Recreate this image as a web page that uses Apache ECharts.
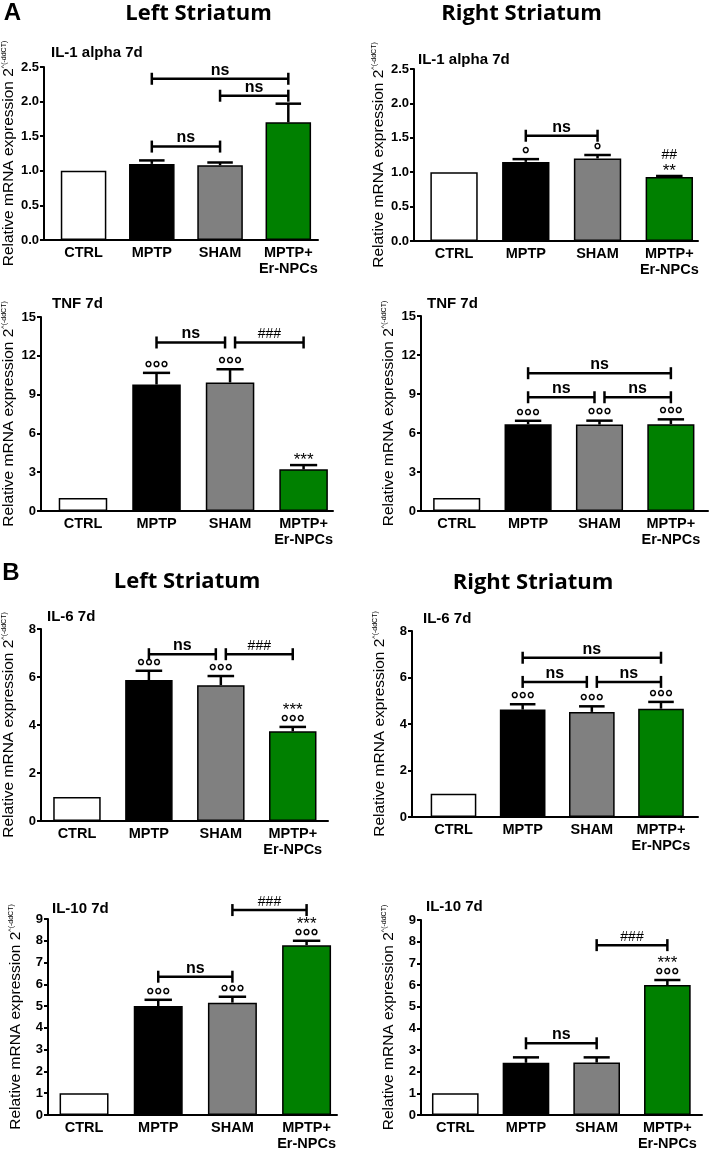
<!DOCTYPE html>
<html><head><meta charset="utf-8">
<script src="https://cdn.jsdelivr.net/npm/echarts@6/dist/echarts.min.js"></script>
<style>html,body{margin:0;padding:0;background:#fff}#c{width:709px;height:1155px}</style>
</head><body><div id="c"></div>
<script>
// ---------- DATA ----------
const categories = ['CTRL', 'MPTP', 'SHAM', 'MPTP+\nEr-NPCs'];
const panelTitles = ['IL-1 alpha 7d', 'IL-1 alpha 7d', 'TNF 7d', 'TNF 7d', 'IL-6 7d', 'IL-6 7d', 'IL-10 7d', 'IL-10 7d'];
const sectionLabels = ['A', 'B'];
const regionTitles = ['Left Striatum', 'Right Striatum'];
const yAxisName = 'Relative mRNA expression 2';
const yAxisSup = '^(-ddCT)';

const il1Ticks = [0, 0.5, 1.0, 1.5, 2.0, 2.5];
const tnfTicks = [0, 3, 6, 9, 12, 15];
const il6Ticks = [0, 2, 4, 6, 8];
const il10Ticks = [0, 1, 2, 3, 4, 5, 6, 7, 8, 9];

const il1LeftMean = [1.0, 1.10, 1.08, 1.70];
const il1LeftSem = [0, 0.05, 0.04, 0.27];
const il1RightMean = [1.0, 1.15, 1.20, 0.93];
const il1RightSem = [0, 0.04, 0.05, 0.015];
const tnfLeftMean = [1.0, 9.78, 9.94, 3.22];
const tnfLeftSem = [0, 0.90, 1.02, 0.33];
const tnfRightMean = [1.0, 6.67, 6.65, 6.68];
const tnfRightSem = [0, 0.27, 0.30, 0.37];
const il6LeftMean = [1.0, 5.87, 5.66, 3.74];
const il6LeftSem = [0, 0.39, 0.38, 0.18];
const il6RightMean = [1.0, 4.62, 4.52, 4.66];
const il6RightSem = [0, 0.23, 0.24, 0.29];
const il10LeftMean = [1.0, 5.00, 5.16, 7.80];
const il10LeftSem = [0, 0.29, 0.27, 0.20];
const il10RightMean = [1.0, 2.41, 2.42, 6.00];
const il10RightSem = [0, 0.25, 0.24, 0.23];

// brackets: [fromCategory, toCategory, yValue, label]
const il1LeftBrackets = [[1, 3, 2.33, 'ns'], [2, 3, 2.085, 'ns'], [1, 2, 1.35, 'ns']];
const il1RightBrackets = [[1, 2, 1.53, 'ns']];
const tnfLeftBrackets = [[1, 2, 13.03, 'ns'], [2, 3, 13.03, '###']];
const tnfRightBrackets = [[1, 3, 10.6, 'ns'], [1, 2, 8.75, 'ns'], [2, 3, 8.75, 'ns']];
const il6LeftBrackets = [[1, 2, 6.95, 'ns'], [2, 3, 6.95, '###']];
const il6RightBrackets = [[1, 3, 6.85, 'ns'], [1, 2, 5.81, 'ns'], [2, 3, 5.81, 'ns']];
const il10LeftBrackets = [[1, 2, 6.35, 'ns'], [2, 3, 9.41, '###']];
const il10RightBrackets = [[1, 2, 3.31, 'ns'], [2, 3, 7.84, '###']];

// significance marks above each bar, bottom to top
const il1LeftMarks = [[], [], [], []];
const il1RightMarks = [[], ['°'], ['°'], ['**', '##']];
const tnfLeftMarks = [[], ['°°°'], ['°°°'], ['***']];
const tnfRightMarks = [[], ['°°°'], ['°°°'], ['°°°']];
const il6LeftMarks = [[], ['°°°'], ['°°°'], ['°°°', '***']];
const il6RightMarks = [[], ['°°°'], ['°°°'], ['°°°']];
const il10LeftMarks = [[], ['°°°'], ['°°°'], ['°°°', '***']];
const il10RightMarks = [[], [], [], ['°°°', '***']];

// ---------- STYLE / LAYOUT ----------
const FONT = '"Liberation Sans", Arial, sans-serif';
const HEAD_FONT = '"Open Sans", "Liberation Sans", sans-serif';
const barColors = ['#ffffff', '#000000', '#808080', '#008000'];

const panels = [
  { mean: il1LeftMean, sem: il1LeftSem, ticks: il1Ticks, dec: 1, br: il1LeftBrackets, mk: il1LeftMarks },
  { mean: il1RightMean, sem: il1RightSem, ticks: il1Ticks, dec: 1, br: il1RightBrackets, mk: il1RightMarks },
  { mean: tnfLeftMean, sem: tnfLeftSem, ticks: tnfTicks, dec: 0, br: tnfLeftBrackets, mk: tnfLeftMarks },
  { mean: tnfRightMean, sem: tnfRightSem, ticks: tnfTicks, dec: 0, br: tnfRightBrackets, mk: tnfRightMarks },
  { mean: il6LeftMean, sem: il6LeftSem, ticks: il6Ticks, dec: 0, br: il6LeftBrackets, mk: il6LeftMarks },
  { mean: il6RightMean, sem: il6RightSem, ticks: il6Ticks, dec: 0, br: il6RightBrackets, mk: il6RightMarks },
  { mean: il10LeftMean, sem: il10LeftSem, ticks: il10Ticks, dec: 0, br: il10LeftBrackets, mk: il10LeftMarks },
  { mean: il10RightMean, sem: il10RightSem, ticks: il10Ticks, dec: 0, br: il10RightBrackets, mk: il10RightMarks }
];

const layout = [
  { l: 41, t: 67, r: 318, b: 240, xMin: -0.58, xMax: 3.435, tx: 51, ty: 54 },
  { l: 414, t: 69, r: 698, b: 241, xMin: -0.558, xMax: 3.40, tx: 418, ty: 61 },
  { l: 41, t: 317, r: 333, b: 511, xMin: -0.571, xMax: 3.40, tx: 52, ty: 305 },
  { l: 421, t: 316, r: 708, b: 511, xMin: -0.50, xMax: 3.52, tx: 427, ty: 305 },
  { l: 41, t: 629, r: 328, b: 821, xMin: -0.50, xMax: 3.49, tx: 47, ty: 618 },
  { l: 412, t: 631, r: 698, b: 817, xMin: -0.60, xMax: 3.535, tx: 423, ty: 620 },
  { l: 48, t: 919, r: 337, b: 1115, xMin: -0.486, xMax: 3.41, tx: 52, ty: 910 },
  { l: 421, t: 920, r: 702, b: 1115, xMin: -0.485, xMax: 3.49, tx: 426, ty: 908 }
];

const headers = [
  { text: sectionLabels[0], x: 12.5, y: 13.5, big: true },
  { text: regionTitles[0], x: 198.5, y: 13.5 },
  { text: regionTitles[1], x: 521.5, y: 13.5 },
  { text: sectionLabels[1], x: 11, y: 573.5, big: true },
  { text: regionTitles[0], x: 187, y: 581.5 },
  { text: regionTitles[1], x: 533, y: 583 }
];

function markStyle(s) {
  if (s[0] === '°') return { fs: 20, shift: 0.24, fw: 'bold' };
  if (s[0] === '*') return { fs: 17, shift: 0.24, fw: 'normal' };
  return { fs: 14, shift: 0.01, fw: 'normal' };
}

const option = { animation: false, backgroundColor: '#fff', grid: [], xAxis: [], yAxis: [], series: [], graphic: [] };

panels.forEach((p, i) => {
  const L = layout[i];
  const spacing = (L.r - L.l) / (L.xMax - L.xMin);
  const barW = spacing * 0.66;
  option.grid.push({ left: L.l, top: L.t, width: L.r - L.l, height: L.b - L.t, containLabel: false });
  option.xAxis.push({
    gridIndex: i, type: 'value', min: L.xMin, max: L.xMax,
    axisLine: { show: true, onZero: false, lineStyle: { color: '#000', width: 2 } },
    axisTick: { show: false }, splitLine: { show: false },
    axisLabel: {
      customValues: [0, 1, 2, 3], formatter: v => categories[Math.round(v)],
      color: '#000', fontFamily: FONT, fontWeight: 'bold', fontSize: 14.5, lineHeight: 16, margin: 5
    }
  });
  const tk = p.ticks;
  option.yAxis.push({
    gridIndex: i, type: 'value', min: tk[0], max: tk[tk.length - 1], interval: tk[1] - tk[0],
    axisLine: { show: true, onZero: false, lineStyle: { color: '#000', width: 2 } },
    axisTick: { show: true, length: 4, lineStyle: { color: '#000', width: 2 } },
    splitLine: { show: false },
    axisLabel: { formatter: v => v.toFixed(p.dec), color: '#000', fontFamily: FONT, fontWeight: 'bold', fontSize: 13, margin: 5 },
    name: '{m|' + yAxisName + '}{s|' + yAxisSup + '}',
    nameLocation: 'middle', nameRotate: 90, nameGap: 24,
    nameTextStyle: {
      color: '#000', fontFamily: FONT,
      rich: {
        m: { fontSize: 15.5, fontFamily: FONT, color: '#000' },
        s: { fontSize: 7, fontFamily: FONT, color: '#000', verticalAlign: 'top' }
      }
    }
  });
  // bars
  option.series.push({
    type: 'bar', xAxisIndex: i, yAxisIndex: i, barWidth: barW,
    data: p.mean.map((v, k) => ({ value: [k, v], itemStyle: { color: barColors[k] } })),
    itemStyle: { borderColor: '#000', borderWidth: 1.5 },
    z: 2
  });
  // error bars
  option.series.push({
    type: 'custom', xAxisIndex: i, yAxisIndex: i, z: 3,
    data: p.mean.map((v, k) => [k, v, p.sem[k]]),
    renderItem: (params, api) => {
      const x = api.value(0), m = api.value(1), e = api.value(2);
      if (!(e > 0)) return null;
      const a = api.coord([x, m]), b = api.coord([x, m + e]);
      const half = barW * 0.28;
      const st = { stroke: '#000', lineWidth: 2.5 };
      return {
        type: 'group', children: [
          { type: 'line', shape: { x1: a[0], y1: a[1], x2: b[0], y2: b[1] }, style: st },
          { type: 'line', shape: { x1: b[0] - half, y1: b[1], x2: b[0] + half, y2: b[1] }, style: st }
        ]
      };
    }
  });
  // brackets
  option.series.push({
    type: 'custom', xAxisIndex: i, yAxisIndex: i, z: 4,
    data: p.br.map(b => [b[0], b[1], b[2]]),
    renderItem: (params, api) => {
      const b = p.br[params.dataIndex];
      const a = api.coord([b[0], b[2]]), c = api.coord([b[1], b[2]]);
      let x1 = a[0], x2 = c[0];
      p.br.forEach((o, j) => {
        if (j === params.dataIndex || o[2] !== b[2]) return;
        if (o[1] === b[0]) x1 += 5;
        if (o[0] === b[1]) x2 -= 5;
      });
      const y = a[1];
      const st = { stroke: '#000', lineWidth: 2.5 };
      const isHash = b[3][0] === '#';
      const fs = isHash ? 14 : 16;
      return {
        type: 'group', children: [
          { type: 'line', shape: { x1: x1, y1: y, x2: x2, y2: y }, style: st },
          { type: 'line', shape: { x1: x1, y1: y - 6, x2: x1, y2: y + 6 }, style: st },
          { type: 'line', shape: { x1: x2, y1: y - 6, x2: x2, y2: y + 6 }, style: st },
          {
            type: 'text', x: (x1 + x2) / 2, y: y - 3 - 0.3465 * fs,
            style: { text: b[3], fill: '#000', font: (isHash ? 'normal ' : 'bold ') + fs + 'px ' + FONT, textAlign: 'center', textVerticalAlign: 'middle' }
          }
        ]
      };
    }
  });
  // significance marks
  option.series.push({
    type: 'custom', xAxisIndex: i, yAxisIndex: i, z: 5,
    data: p.mean.map((v, k) => [k, v + p.sem[k]]),
    renderItem: (params, api) => {
      const marks = p.mk[params.dataIndex];
      if (!marks.length) return null;
      const pt = api.coord([api.value(0), api.value(1)]);
      const children = marks.map((s, k) => {
        const ms = markStyle(s);
        const center = pt[1] - 8.5 - 12 * k;
        return {
          type: 'text', x: pt[0], y: center + ms.shift * ms.fs,
          style: { text: s, fill: '#000', font: ms.fw + ' ' + ms.fs + 'px ' + FONT, textAlign: 'center', textVerticalAlign: 'middle' }
        };
      });
      return { type: 'group', children: children };
    }
  });
  // panel title
  option.graphic.push({
    type: 'text', left: L.tx, top: L.ty - 9,
    style: { text: panelTitles[i], fill: '#000', font: 'bold 15px ' + FONT }
  });
});

headers.forEach(h => {
  option.graphic.push({
    type: 'text', x: h.x, y: h.y,
    style: {
      text: h.text, fill: '#000', textAlign: 'center', textVerticalAlign: 'middle',
      font: h.big ? 'bold 24px ' + FONT : 'bold 22px ' + HEAD_FONT
    }
  });
});

const chart = echarts.init(document.getElementById('c'), null, { renderer: 'canvas' });
chart.setOption(option);
</script></body></html>
